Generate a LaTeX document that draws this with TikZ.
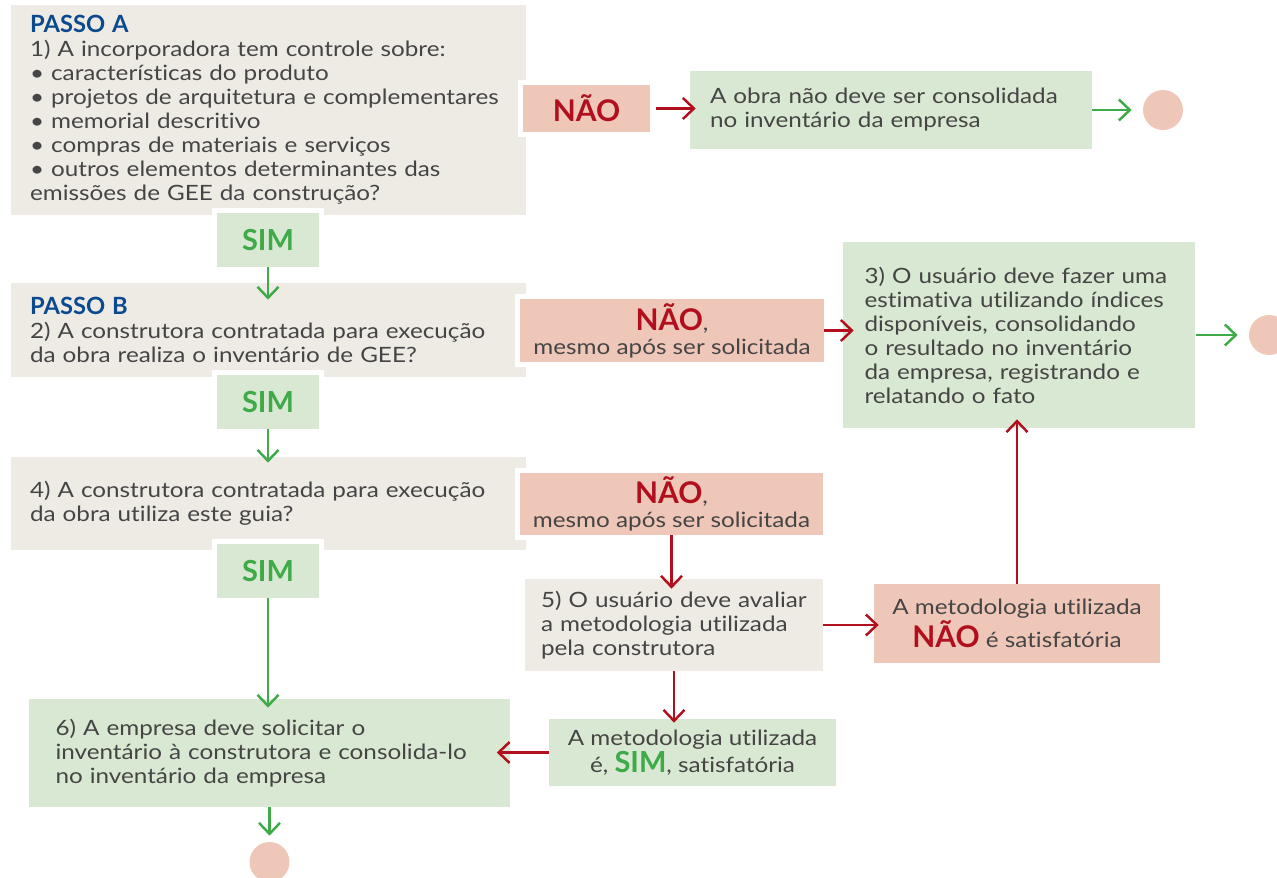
\documentclass[tikz,border=0pt]{standalone}
\usepackage{fontspec}
\setmainfont{Lato}[Ligatures=NoCommon, UprightFeatures={FakeStretch=1.15}]
\usepackage{tikz}
\usetikzlibrary{arrows.meta,positioning}

\definecolor{beigefill}{HTML}{EEEBE4}
\definecolor{greenfill}{HTML}{D9E8D2}
\definecolor{pinkfill}{HTML}{EFC7B8}
\definecolor{naored}{HTML}{B10F1E}
\definecolor{simgreen}{HTML}{3EAA48}
\definecolor{passoblue}{HTML}{0B4A8F}
\definecolor{txtgray}{HTML}{454545}

\newcommand{\naotxt}{{\color{naored}\fontsize{17}{17}\selectfont\bfseries NÃO}}
\newcommand{\simtxt}{{\color{simgreen}\fontsize{16.5}{17}\selectfont\bfseries SIM}}
\newcommand{\passotxt}[1]{{\color{passoblue}\fontsize{13.5}{13.66}\selectfont\bfseries #1}}

\begin{document}
\begin{tikzpicture}[x=0.02cm, y=-0.02cm,
  box/.style={inner ysep=0pt, align=left, text=txtgray, font=\fontsize{12}{13.66}\selectfont},
  beigebox/.style={box, fill=beigefill},
  greenbox/.style={box, fill=greenfill},
  tag/.style={preaction={draw=white, line width=0.2cm}, inner sep=0pt, align=center, text=txtgray, font=\fontsize{12}{13.66}\selectfont},
  simtag/.style={tag, fill=greenfill, minimum width=2.04cm, minimum height=1.08cm},
  naotag/.style={tag, fill=pinkfill},
  okarrow/.style={draw=simgreen, line width=1.4pt, -{Straight Barb[length=0.22cm, width=0.42cm]}},
  noarrow/.style={draw=naored, line width=1.4pt, -{Straight Barb[length=0.22cm, width=0.42cm]}},
  fim/.style={circle, fill=pinkfill, minimum size=0.8cm, inner sep=0pt}
  ]
  \useasboundingbox (0,0) rectangle (1277,878);

  % Left column: questions
  \node[beigebox, minimum width=10.3cm, minimum height=4.2cm, text width=9.54cm] (passoA) at (268.5,110)
    {\passotxt{PASSO A}\\
     1) A incorporadora tem controle sobre:\\
     • características do produto\\
     • projetos de arquitetura e complementares\\
     • memorial descritivo\\
     • compras de materiais e serviços\\
     • outros elementos determinantes das\\
     emissões de GEE da construção?};
  \node[beigebox, minimum width=10.3cm, minimum height=1.88cm, text width=9.54cm] (passoB) at (268.5,330)
    {\passotxt{PASSO B}\\
     2) A construtora contratada para execução\\
     da obra realiza o inventário de GEE?};
  \node[beigebox, minimum width=10.3cm, minimum height=1.86cm, text width=9.54cm] (guia) at (268.5,503.5)
    {4) A construtora contratada para execução\\
     da obra utiliza este guia?};
  \node[greenbox, minimum width=9.64cm, minimum height=2.16cm, text width=8.56cm] (solicitar) at (269.5,753)
    {6) A empresa deve solicitar o\\
     inventário à construtora e consolida-lo\\
     no inventário da empresa};

  % Right part: outcomes
  \node[greenbox, minimum width=8.04cm, minimum height=1.56cm, text width=7.24cm] (naoconsolida) at (891,110)
    {A obra não deve ser consolidada\\
     no inventário da empresa};
  \node[greenbox, minimum width=7.06cm, minimum height=3.72cm, text width=6.18cm] (estimativa) at (1019,335)
    {3) O usuário deve fazer uma\\
     estimativa utilizando índices\\
     disponíveis, consolidando\\
     o resultado no inventário\\
     da empresa, registrando e\\
     relatando o fato};
  \node[beigebox, minimum width=5.96cm, minimum height=1.84cm, text width=5.32cm] (avaliar) at (674,625)
    {5) O usuário deve avaliar\\
     a metodologia utilizada\\
     pela construtora};

  % Answers
  \node[simtag] (sim1) at (268,240) {\simtxt};
  \node[simtag] (sim2) at (268,402) {\simtxt};
  \node[simtag] (sim3) at (268,571) {\simtxt};
  \node[naotag, minimum width=2.54cm, minimum height=0.94cm] (nao1) at (586.5,108.5) {\naotxt};
  \node[naotag, minimum width=6.08cm, minimum height=1.26cm] (nao2) at (672,330.5)
    {\naotxt,\\ mesmo após ser solicitada};
  \node[naotag, minimum width=6.08cm, minimum height=1.24cm] (nao3) at (671.5,504)
    {\naotxt,\\ mesmo após ser solicitada};
  \node[naotag, minimum width=5.72cm, minimum height=1.58cm] (naosat) at (1017,623.5)
    {A metodologia utilizada\\ \naotxt{} é satisfatória};
  \node[tag, fill=greenfill, minimum width=5.74cm, minimum height=1.34cm] (simsat) at (692.5,752.5)
    {A metodologia utilizada\\ é, \simtxt, satisfatória};

  % End points
  \node[fim] (fim1) at (1163,110) {};
  \node[fim] (fim2) at (1269,335) {};
  \node[fim] (fim3) at (269.5,862) {};

  % Connections
  \draw[okarrow, shorten >=-0.34cm] (sim1) -- (sim1 |- passoB.north);
  \draw[okarrow, shorten >=-0.12cm] (sim2) -- (sim2 |- guia.north);
  \draw[okarrow, shorten >=-0.18cm] (sim3) -- (sim3 |- solicitar.north);
  \draw[okarrow, shorten >=0.12cm] (solicitar) -- (fim3);
  \draw[noarrow, shorten <=0.12cm, shorten >=-0.12cm] (nao1.east) -- (nao1.east -| naoconsolida.west);
  \draw[okarrow, shorten >=0.22cm] (naoconsolida) -- (fim1);
  \draw[noarrow, shorten >=-0.23cm] (nao2) -- (nao2 -| estimativa.west);
  \draw[okarrow, shorten >=0.22cm] (estimativa) -- (fim2);
  \draw[noarrow, shorten >=-0.2cm] (nao3) -- (nao3 |- avaliar.north);
  \draw[noarrow, shorten >=-0.1cm] (avaliar) -- (avaliar -| naosat.west);
  \draw[noarrow, shorten >=-0.18cm] (naosat) -- (naosat |- estimativa.south);
  \draw[noarrow, shorten >=-0.08cm] (avaliar) -- (avaliar |- simsat.north);
  \draw[noarrow, shorten >=-0.28cm] (simsat) -- (simsat -| solicitar.east);
\end{tikzpicture}
\end{document}
